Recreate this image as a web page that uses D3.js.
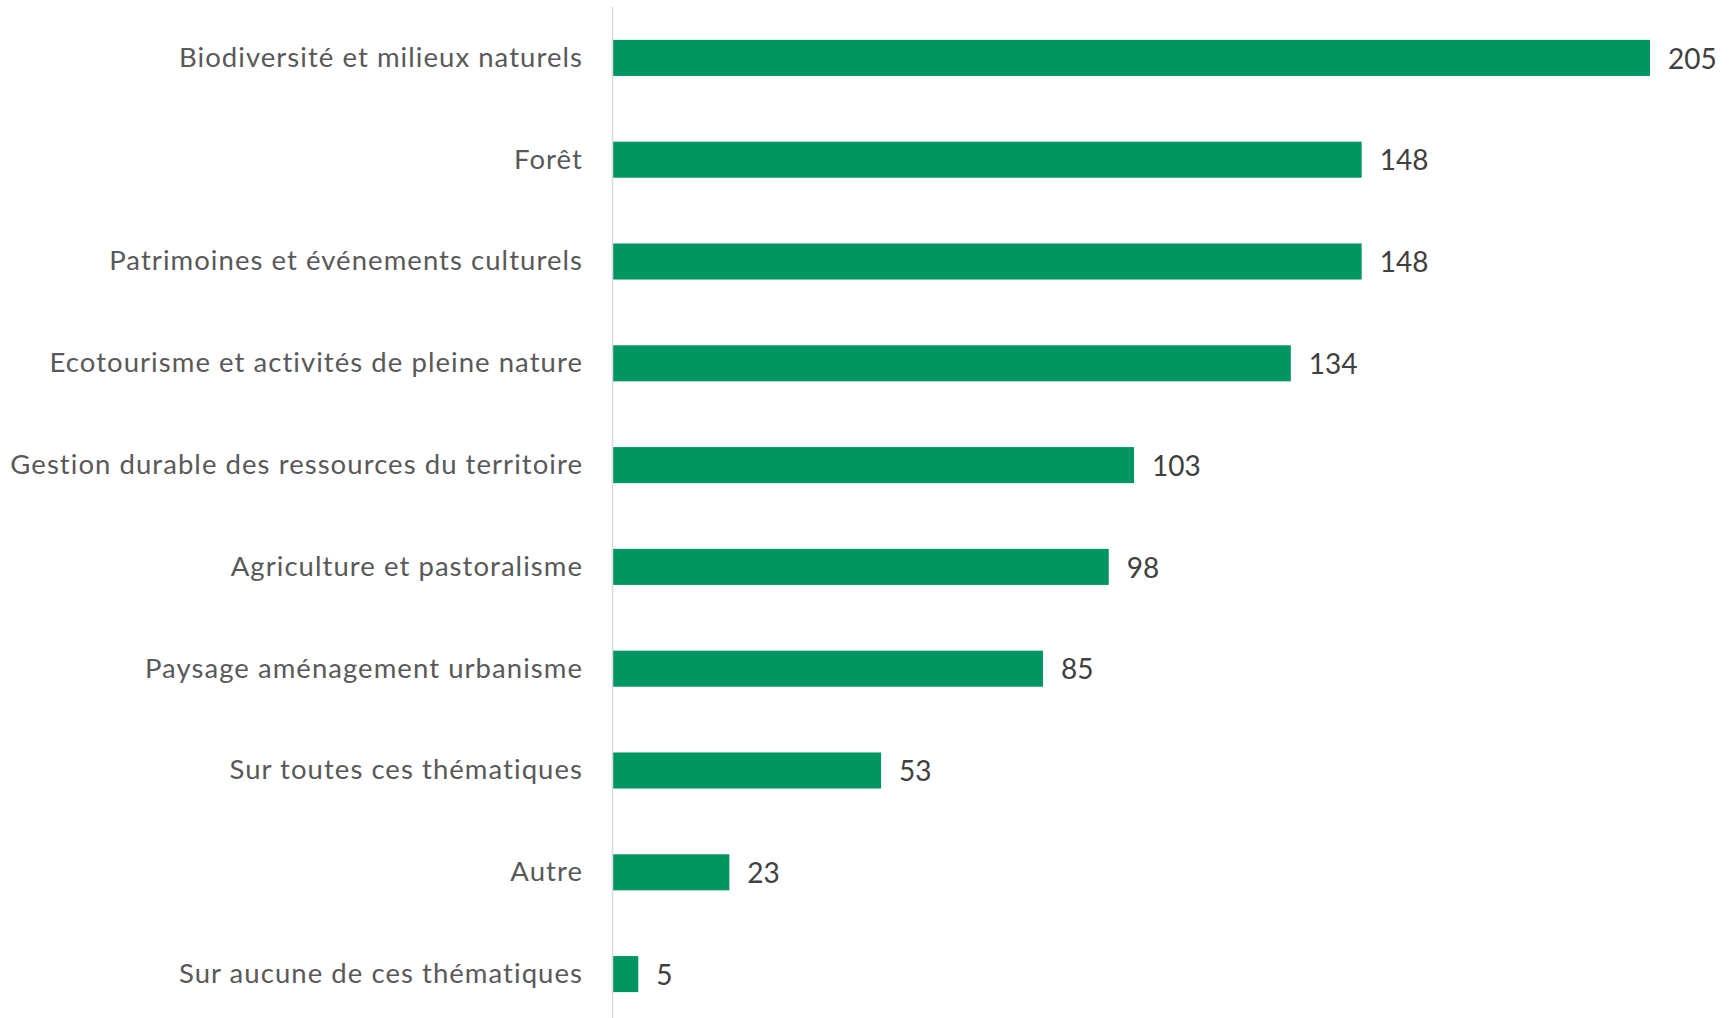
<!DOCTYPE html>
<html>
<head>
<meta charset="utf-8">
<script src="https://cdn.jsdelivr.net/npm/d3@7"></script>
<style>
  body { margin: 0; background: #fff; }
  svg { display: block; font-family: Lato, "Open Sans", sans-serif; }
</style>
</head>
<body>
<div id="chart"></div>
<script>
const categories = [
  "Biodiversité et milieux naturels",
  "Forêt",
  "Patrimoines et événements culturels",
  "Ecotourisme et activités de pleine nature",
  "Gestion durable des ressources du territoire",
  "Agriculture et pastoralisme",
  "Paysage aménagement urbanisme",
  "Sur toutes ces thématiques",
  "Autre",
  "Sur aucune de ces thématiques"
];
const values = [205, 148, 148, 134, 103, 98, 85, 53, 23, 5];

const width = 1735;
const height = 1018;
const left = 613;

const svg = d3.select("#chart").append("svg")
  .attr("width", width)
  .attr("height", height);

const x = d3.scaleLinear()
  .domain([0, 205])
  .range([left, 1650]);

const y = d3.scaleBand()
  .domain(categories)
  .range([7, 1025])
  .paddingInner(0.646)
  .paddingOuter(0.323);

const data = categories.map((c, i) => ({ cat: c, value: values[i] }));

svg.selectAll("rect.bar")
  .data(data).enter()
  .append("rect")
    .attr("class", "bar")
    .attr("fill", "#009661")
    .attr("x", x(0))
    .attr("y", d => y(d.cat))
    .attr("width", d => x(d.value) - x(0))
    .attr("height", y.bandwidth());

// axis line
svg.append("line")
  .attr("x1", left - 0.5).attr("x2", left - 0.5)
  .attr("y1", 7).attr("y2", height)
  .attr("stroke", "#d9d9d9")
  .attr("stroke-width", 1.5);

svg.selectAll("text.cat")
  .data(data).enter()
  .append("text")
    .attr("class", "cat")
    .attr("x", 583)
    .attr("y", d => y(d.cat) + y.bandwidth() / 2)
    .attr("dy", "0.32em")
    .attr("text-anchor", "end")
    .attr("fill", "#595959")
    .style("font-size", "27.5px")
    .style("letter-spacing", "1.05px")
    .text(d => d.cat);

svg.selectAll("text.val")
  .data(data).enter()
  .append("text")
    .attr("class", "val")
    .attr("x", d => x(d.value) + 18)
    .attr("y", d => y(d.cat) + y.bandwidth() / 2)
    .attr("dy", "0.38em")
    .attr("fill", "#404040")
    .style("font-size", "28px")
    .text(d => d.value);
</script>
</body>
</html>
